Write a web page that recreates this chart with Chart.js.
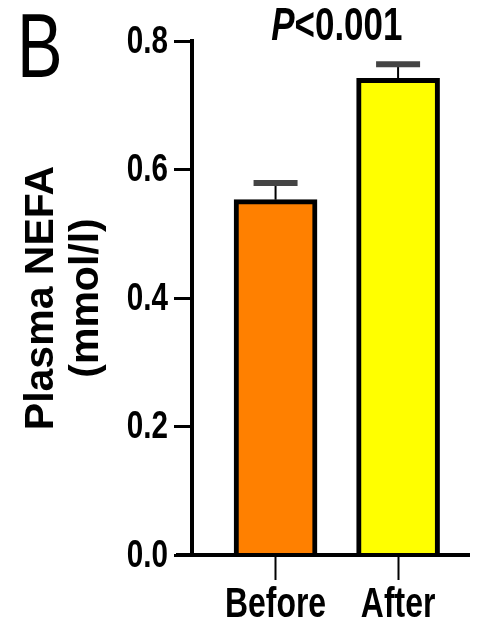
<!DOCTYPE html>
<html>
<head>
<meta charset="utf-8">
<script src="https://cdn.jsdelivr.net/npm/chart.js@4.4.1/dist/chart.umd.min.js"></script>
<style>
  html, body { margin: 0; padding: 0; background: #fff; }
  #wrap { width: 478px; height: 623px; }
</style>
</head>
<body>
<div id="wrap"><canvas id="chart" width="478" height="623"></canvas></div>
<script>
// Data
const categories = ['Before', 'After'];
const nefaMeans = [0.553, 0.742];
const nefaSem = [0.026, 0.022];
const yTicks = [0, 0.2, 0.4, 0.6, 0.8];
const barColors = ['#FF8000', '#FFFF00'];
const panelLetter = 'B';
const pValueText = '<0.001';
const yTitle = ['Plasma NEFA', '(mmol/l)'];

const FONT = "'Liberation Sans', Arial, sans-serif";
const SQUEEZE = 0.76; // the source figure's lettering is condensed horizontally

// draw text squeezed horizontally around its anchor point
function narrowText(ctx, text, x, y, font, align, baseline) {
    ctx.save();
    ctx.translate(x, y);
    ctx.scale(SQUEEZE, 1);
    ctx.font = font;
    ctx.textAlign = align;
    ctx.textBaseline = baseline;
    ctx.fillText(text, 0, 0);
    ctx.restore();
}

// Error bars (mean + SEM, upper only)
const errorBars = {
    id: 'errorBars',
    afterDatasetsDraw(chart) {
        const ctx = chart.ctx;
        const y = chart.scales.y;
        const meta = chart.getDatasetMeta(0);
        ctx.save();
        meta.data.forEach((bar, i) => {
            const top = y.getPixelForValue(nefaMeans[i] + nefaSem[i]);
            ctx.strokeStyle = '#000';
            ctx.lineWidth = 2;
            ctx.beginPath();
            ctx.moveTo(bar.x, bar.y);
            ctx.lineTo(bar.x, top);
            ctx.stroke();
            ctx.strokeStyle = '#444';
            ctx.lineWidth = 6;
            ctx.beginPath();
            ctx.moveTo(bar.x - 22, top);
            ctx.lineTo(bar.x + 22, top);
            ctx.stroke();
        });
        ctx.restore();
    }
};

// x axis line, tick labels (condensed), panel letter, p value
const decorations = {
    id: 'decorations',
    afterDraw(chart) {
        const ctx = chart.ctx;
        const area = chart.chartArea;
        const xs = chart.scales.x;
        const ys = chart.scales.y;
        const y0 = ys.getPixelForValue(0);
        ctx.save();
        ctx.strokeStyle = '#000';
        ctx.lineWidth = 4;
        ctx.beginPath();
        ctx.moveTo(area.left - 16, y0);
        ctx.lineTo(area.right, y0);
        ctx.stroke();
        ctx.fillStyle = '#000';

        yTicks.forEach(v => {
            narrowText(ctx, v.toFixed(1), area.left - 24, ys.getPixelForValue(v) + 1,
                'bold 39px ' + FONT, 'right', 'middle');
        });
        categories.forEach((c, i) => {
            narrowText(ctx, c, xs.getPixelForValue(i + 1), 617,
                'bold 42px ' + FONT, 'center', 'alphabetic');
        });

        narrowText(ctx, panelLetter, 17, 77, 'normal 90px ' + FONT, 'left', 'alphabetic');

        const meta = chart.getDatasetMeta(0);
        const cx = (meta.data[0].x + meta.data[1].x) / 2;
        ctx.font = 'italic bold 46px ' + FONT;
        const pw = ctx.measureText('P').width * SQUEEZE;
        ctx.font = 'bold 46px ' + FONT;
        const rw = ctx.measureText(pValueText).width * SQUEEZE;
        const x0 = cx - (pw + rw) / 2;
        narrowText(ctx, 'P', x0, 40, 'italic bold 46px ' + FONT, 'left', 'alphabetic');
        narrowText(ctx, pValueText, x0 + pw, 40, 'bold 46px ' + FONT, 'left', 'alphabetic');
        ctx.restore();
    }
};

const ctx = document.getElementById('chart').getContext('2d');
const chart = new Chart(ctx, {
    type: 'bar',
    data: {
        datasets: [{
            data: categories.map((c, i) => ({ x: i + 1, y: nefaMeans[i] })),
            backgroundColor: barColors,
            borderColor: '#000',
            borderWidth: 5,
            borderSkipped: 'start',
            barThickness: 83
        }]
    },
    options: {
        responsive: false,
        animation: false,
        devicePixelRatio: 1,
        layout: { padding: { top: 41, right: 8, left: 0, bottom: 0 } },
        plugins: {
            legend: { display: false },
            tooltip: { enabled: false }
        },
        scales: {
            x: {
                type: 'linear',
                min: 0.318,
                max: 2.587,
                offset: false,
                afterFit: (scale) => { scale.height = 68; },
                afterBuildTicks: (scale) => {
                    scale.ticks = categories.map((c, i) => ({ value: i + 1 }));
                },
                border: { display: false },
                grid: {
                    offset: false,
                    drawOnChartArea: false,
                    drawTicks: true,
                    tickLength: 25,
                    tickWidth: 2,
                    tickColor: '#000'
                },
                ticks: { display: false }
            },
            y: {
                min: 0,
                max: 0.8,
                afterFit: (scale) => { scale.width = 192; },
                afterBuildTicks: (scale) => {
                    scale.ticks = yTicks.map(v => ({ value: v }));
                },
                border: { display: true, color: '#000', width: 4 },
                grid: {
                    drawOnChartArea: false,
                    drawTicks: true,
                    tickLength: 18,
                    tickWidth: 3,
                    tickColor: '#000'
                },
                ticks: { display: false },
                title: {
                    display: true,
                    text: yTitle,
                    color: '#000',
                    padding: { top: 20, bottom: 0 },
                    font: { family: FONT, size: 41, weight: 'bold', lineHeight: 1.08 }
                }
            }
        }
    },
    plugins: [errorBars, decorations]
});
</script>
</body>
</html>
